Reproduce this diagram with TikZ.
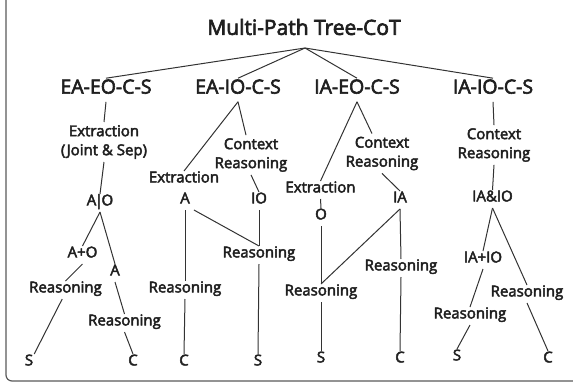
\documentclass[tikz,border=0pt]{standalone}
\usepackage{fontspec}
\setmainfont{Open Sans}[RawFeature={embolden=3}]

\begin{document}
\begin{tikzpicture}[x=1pt, y=-1pt,
    title/.style={font=\fontsize{21}{24}\selectfont, text=black!88, inner sep=2pt},
    head/.style={font=\fontsize{19.5}{22}\selectfont, text=black!88, inner sep=8pt, text height=0.72em, text depth=0pt},
    lbl/.style={font=\fontsize{15}{18}\selectfont, text=black!88, inner sep=4pt, text height=0.72em, text depth=0.24em},
    lbltwo/.style={font=\fontsize{15}{19}\selectfont, text=black!88, inner sep=3pt, align=center},
    branch/.style={line width=1pt, draw=black!80}]

\useasboundingbox (0,0) rectangle (573,383);

% Outer frame (cut off at top and right)
\draw[line width=1.2pt, gray!70!black, rounded corners=6pt] (6,-10) rectangle (590,381);

% Title and the four path heads
\node[title] (root) at (304,27) {Multi-Path Tree-CoT};
\coordinate (fork) at (305,48);

\node[head] (h1) at (106,90) {EA-EO-C-S};
\node[head] (h2) at (238,90) {EA-IO-C-S};
\node[head] (h3) at (357,90) {IA-EO-C-S};
\node[head] (h4) at (493,90) {IA-IO-C-S};

\foreach \h in {h1,h2,h3,h4}
  \draw[branch] (fork) -- (\h.north);

% Path 1: EA-EO-C-S
\node[lbltwo] (c1ex) at (104,142) {Extraction\\(Joint \& Sep)};
\node[lbl] (c1ao) at (100,203) {A\kern-1.5pt|\kern-1.5pt O};
\node[lbl] (c1apo) at (82.5,255) {A+O};
\node[lbl] (c1a) at (115,273) {A};
\node[lbl] (c1rl) at (65.5,290) {Reasoning};
\node[lbl] (c1rr) at (124.5,323) {Reasoning};
\node[lbl] (c1s) at (29,363) {S};
\node[lbl] (c1c) at (133,363) {C};

\draw[branch] (h1.south) -- (c1ex.north);
\draw[branch] (c1ex.south) -- (c1ao.north);
\draw[branch] (c1ao.south) -- (c1apo.north);
\draw[branch] (c1ao.south) -- (c1a.north);
\draw[branch] (c1apo.south) -- (c1rl.north);
\draw[branch] (c1a.south) -- (c1rr.north);
\draw[branch] (c1rl.250) -- (c1s.60);
\draw[branch] (c1rr.south) -- (c1c.north);

% Path 2: EA-IO-C-S
\node[lbl] (c2ex) at (184,180) {Extraction};
\node[lbltwo] (c2cr) at (251,155) {Context\\Reasoning};
\node[lbl] (c2a) at (185,201) {A};
\node[lbl] (c2io) at (259,201) {IO};
\node[lbl] (c2r) at (259,255) {Reasoning};
\node[lbl] (c2rc) at (185,290) {Reasoning};
\node[lbl] (c2c) at (184,363) {C};
\node[lbl] (c2s) at (258,363) {S};

\draw[branch] (h2.south) -- (c2ex.north);
\draw[branch] (h2.south) -- ([xshift=-5pt]c2cr.north);
\draw[branch] (c2cr.south) -- (c2io.north);
\draw[branch] (c2a.south) -- (c2rc.north);
\draw[branch] (c2a.south east) -- (c2r.north);
\draw[branch] (c2io.south) -- (c2r.north);
\draw[branch] (c2r.south) -- (c2s.north);
\draw[branch] (c2rc.south) -- (c2c.north);

% Path 3: IA-EO-C-S
\node[lbl] (c3ex) at (320.5,190) {Extraction};
\node[lbltwo] (c3cr) at (382,153.5) {Context\\Reasoning};
\node[lbl] (c3o) at (321,217) {O};
\node[lbl] (c3ia) at (400,200) {IA};
\node[lbl] (c3rr) at (401,268) {Reasoning};
\node[lbl] (c3rl) at (321,293) {Reasoning};
\node[lbl] (c3s) at (321,360) {S};
\node[lbl] (c3c) at (400,360) {C};

\draw[branch] (h3.south) -- (c3ex.north);
\draw[branch] (h3.south) -- ([xshift=-10pt]c3cr.north);
\draw[branch] (c3cr.south) -- (c3ia.north);
\draw[branch] (c3ex.south) -- (c3o.north);
\draw[branch] (c3o.south) -- (c3rl.north);
\draw[branch] (c3ia.south) -- (c3rl.north);
\draw[branch] (c3ia.south) -- (c3rr.north);
\draw[branch] (c3rl.south) -- (c3s.north);
\draw[branch] (c3rr.south) -- (c3c.north);

% Path 4: IA-IO-C-S
\node[lbltwo] (c4cr) at (494,145) {Context\\Reasoning};
\node[lbl] (c4ii) at (492.5,199) {IA\&IO};
\node[lbl] (c4apo) at (483,260) {IA+IO};
\node[lbl] (c4rl) at (470,316) {Reasoning};
\node[lbl] (c4rr) at (527,294) {Reasoning};
\node[lbl] (c4s) at (457,358) {S};
\node[lbl] (c4c) at (548,360) {C};

\draw[branch] (h4.south) -- (c4cr.north);
\draw[branch] (c4cr.south) -- (c4ii.north);
\draw[branch] (c4ii.south) -- (c4apo.north);
\draw[branch] (c4ii.south) -- (c4rr.north);
\draw[branch] (c4apo.south) -- (c4rl.north);
\draw[branch] (c4rl.south) -- (c4s.north);
\draw[branch] (c4rr.south) -- (c4c.north);

\end{tikzpicture}
\end{document}
